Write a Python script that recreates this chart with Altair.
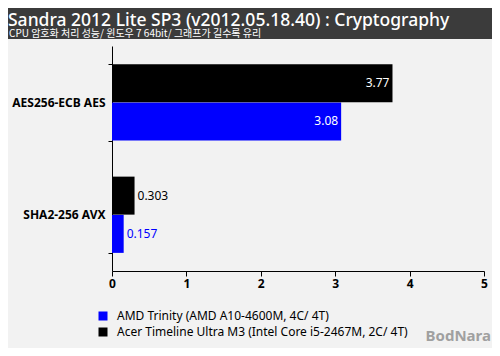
import altair as alt
import pandas as pd

categories = ["AES256-ECB AES", "SHA2-256 AVX"]
series = ["AMD Trinity (AMD A10-4600M, 4C/ 4T)",
          "Acer Timeline Ultra M3 (Intel Core i5-2467M, 2C/ 4T)"]
amd_values = [3.08, 0.157]
acer_values = [3.77, 0.303]
amd_labels = ["3.08", "0.157"]
acer_labels = ["3.77", "0.303"]
colors = ["#0000ff", "#000000"]
x_ticks = [0, 1, 2, 3, 4, 5]

title_text = "Sandra 2012 Lite SP3 (v2012.05.18.40) : Cryptography"
subtitle_text = "CPU 암호화 처리 성능/ 윈도우 7 64bit/ 그래프가 길수록 유리"
watermark = "BodNara"

rows = []
for i, c in enumerate(categories):
    rows.append({"cat": c, "series": series[0], "value": amd_values[i], "label": amd_labels[i]})
    rows.append({"cat": c, "series": series[1], "value": acer_values[i], "label": acer_labels[i]})
df = pd.DataFrame(rows)

FONT = "Noto Sans"
W, H = 372, 225
PL, PT, PR, PB = 104, 38, 8, 77

color_scale = alt.Scale(domain=series, range=colors)
y_enc = alt.Y("cat:N", sort=categories, scale=alt.Scale(paddingInner=0.32, paddingOuter=0.16),
              axis=alt.Axis(title=None, tickBand="extent", tickSize=4, labelPadding=3,
                            labelFontSize=12, labelFontWeight="bold", labelColor="#000",
                            domainColor="#000", tickColor="#000", labelFont=FONT))
yoff = alt.YOffset("series:N", sort=[series[1], series[0]], scale=alt.Scale(paddingInner=0, paddingOuter=0))
x_enc = alt.X("value:Q", scale=alt.Scale(domain=[0, 5], nice=False),
              axis=alt.Axis(title=None, values=x_ticks, format="d", tickSize=5, labelPadding=2,
                            labelFontSize=12, labelFontWeight="bold", labelColor="#000",
                            domainColor="#000", tickColor="#000", grid=False, labelFont=FONT,
                            labelFlush=False))

bars = alt.Chart(df).mark_bar(size=38).encode(
    x=x_enc, y=y_enc, yOffset=yoff,
    color=alt.Color("series:N", scale=color_scale, sort=series,
                    legend=alt.Legend(title=None, orient="none", legendX=-15, legendY=264,
                                      symbolType="square", symbolSize=81, symbolStrokeWidth=0,
                                      labelFontSize=12, labelFont=FONT, labelColor="#000",
                                      labelOffset=8, rowPadding=4, padding=0,
                                      labelLimit=400))
)

inside = alt.Chart(df).transform_filter("datum.value > 1").mark_text(
    align="right", dx=-3, fontSize=12, font=FONT, color="white", baseline="middle"
).encode(x="value:Q", y=alt.Y("cat:N", sort=categories), yOffset=yoff, text="label:N")

outside = alt.Chart(df).transform_filter("datum.value <= 1").mark_text(
    align="left", dx=3, fontSize=12, font=FONT, baseline="middle"
).encode(x="value:Q", y=alt.Y("cat:N", sort=categories), yOffset=yoff, text="label:N",
         color=alt.Color("series:N", scale=color_scale, legend=None))

one = pd.DataFrame({"t": [title_text], "s": [subtitle_text], "w": [watermark]})
header = alt.Chart(one).mark_rect(color="#3b3b3b").encode(
    x=alt.value(-PL), x2=alt.value(W + PR), y=alt.value(-PT), y2=alt.value(-7))
title = alt.Chart(one).mark_text(align="left", baseline="alphabetic", fontSize=17.5,
                                 font=FONT, color="white", fontWeight=500).encode(
    x=alt.value(-PL), y=alt.value(-20.5), text="t:N")
subtitle = alt.Chart(one).mark_text(align="left", baseline="alphabetic", fontSize=10,
                                    font="Noto Sans CJK KR", color="white").encode(
    x=alt.value(-PL + 1), y=alt.value(-9), text="s:N")
wm = alt.Chart(one).mark_text(align="right", baseline="alphabetic", fontSize=15,
                              font=FONT, fontWeight="bold", color="#a0a0a0").encode(
    x=alt.value(W + 7), y=alt.value(H + 70), text="w:N")

chart = alt.layer(header, title, subtitle, bars, inside, outside, wm).resolve_scale(
    color="shared").properties(
    width=W, height=H,
    padding={"left": PL, "top": PT, "right": PR, "bottom": PB},
    autosize=alt.AutoSizeParams(type="none"),
    background="#f2f2f2",
).configure_view(stroke=None)

chart.save("out.html", embed_options={"renderer": "svg", "actions": False})
